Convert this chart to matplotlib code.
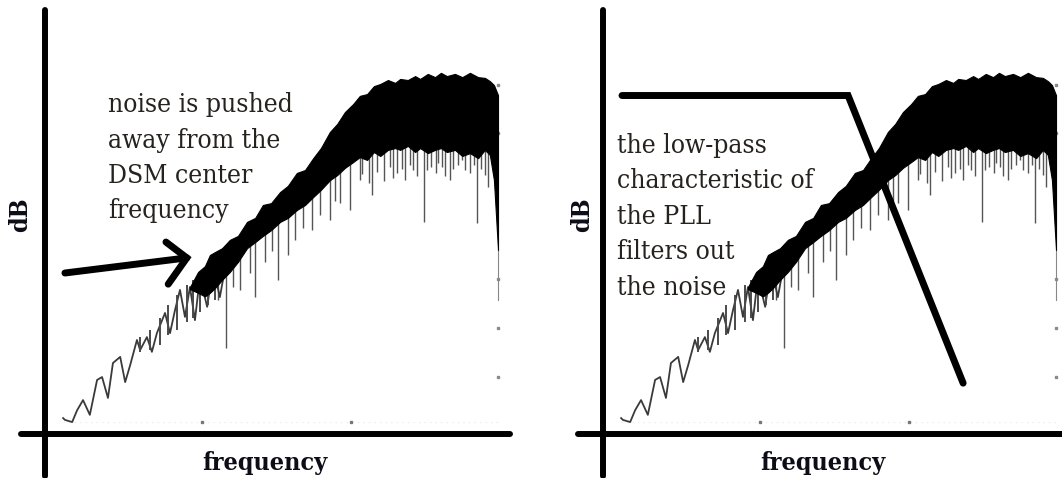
import matplotlib
matplotlib.use("Agg")
import matplotlib.pyplot as plt
import numpy as np

# ---------------- data (normalised frequency f, level in dB) ----------------
# low-frequency oscillating part of the noise spectrum
trace_f = [0.040, 0.044, 0.060, 0.071, 0.084, 0.099, 0.115, 0.126, 0.139, 0.150,
           0.166, 0.177, 0.188, 0.203, 0.210, 0.225, 0.236, 0.247, 0.265, 0.276,
           0.287, 0.298, 0.309, 0.320, 0.331, 0.342, 0.358, 0.371, 0.386, 0.402]
trace_db = [-95.3, -95.8, -96.4, -93.1, -90.3, -94.4, -84.7, -83.9, -89.7, -80.0,
            -78.3, -85.3, -80.6, -73.6, -76.4, -72.8, -76.9, -71.7, -66.1, -71.7,
            -65.3, -59.7, -67.2, -58.9, -68.1, -56.1, -64.4, -53.3, -61.7, -50.6]

# vertical noise strokes in the transition region (frequency, top, bottom)
stroke_f = [0.210, 0.232, 0.254, 0.272, 0.291, 0.313, 0.327, 0.342, 0.360, 0.375]
stroke_top = [-72.8, -70.8, -67.5, -63.9, -61.1, -58.3, -56.9, -54.7, -52.8, -50.8]
stroke_bottom = [-76.9, -76.4, -75.0, -72.2, -70.8, -68.6, -67.5, -65.8, -63.9, -62.5]

# dense noise band: upper and lower envelopes
band_f = [0.320, 0.338, 0.353, 0.364, 0.375, 0.391, 0.408, 0.426,
          0.446, 0.464, 0.481, 0.499, 0.519, 0.536, 0.556, 0.574, 0.592, 0.609,
          0.629, 0.645, 0.662, 0.680, 0.695, 0.711, 0.726, 0.740, 0.757, 0.773,
          0.784, 0.801, 0.817, 0.828, 0.845, 0.861, 0.874, 0.887, 0.905, 0.921,
          0.938, 0.956, 0.971, 0.982, 0.991, 1.000]
band_upper = [-58.9, -54.7, -53.1, -50.0, -49.2, -48.1, -45.8, -44.7,
              -40.8, -39.7, -36.1, -35.6, -32.5, -30.8, -27.2, -26.4, -23.1, -20.3,
              -15.8, -13.6, -10.3, -8.1, -5.8, -5.3, -3.1, -2.5, -1.4, -2.2,
              -1.1, -1.4, -0.3, -1.1, 0.3, -0.6, 0.6, -0.3, 0.3, -0.6,
              0.6, -0.6, -0.8, -1.7, -2.8, -5.6]
band_lower = [-59.5, -60.5, -61.5, -60.5, -59.2, -56.9, -54.7, -51.9,
              -48.1, -46.4, -44.7, -43.1, -40.8, -39.7, -37.5, -36.1, -33.9, -31.9,
              -29.2, -27.8, -25.8, -24.2, -22.8, -23.6, -21.4, -22.5, -20.8, -20.3,
              -20.8, -19.7, -21.4, -20.3, -21.7, -20.8, -20.3, -21.4, -20.8, -22.5,
              -21.7, -23.1, -20.8, -22.2, -29.2, -48.6]

# downward spikes below the band (frequency, lowest level)
spike_f = [0.382, 0.400, 0.415, 0.430, 0.452, 0.464, 0.486, 0.500, 0.514, 0.536,
           0.552, 0.570, 0.589, 0.607, 0.629, 0.640, 0.651, 0.673, 0.695, 0.700,
           0.716, 0.722, 0.733, 0.748, 0.762, 0.768, 0.777, 0.788, 0.795, 0.806,
           0.812, 0.822, 0.837, 0.843, 0.852, 0.863, 0.868, 0.876, 0.882, 0.894,
           0.900, 0.912, 0.921, 0.928, 0.938, 0.946, 0.954, 0.962, 0.971, 0.978]
spike_db = [-62.5, -75.8, -58.9, -59.7, -55.0, -61.7, -51.9, -49.0, -56.9, -50.0,
            -45.8, -42.5, -43.1, -38.9, -40.3, -35.0, -35.6, -37.5, -29.2, -27.5,
            -30.0, -33.3, -27.0, -29.5, -25.6, -28.5, -27.2, -26.0, -29.2, -25.0,
            -26.4, -28.0, -40.8, -26.4, -25.5, -27.2, -24.5, -25.6, -28.0, -29.2,
            -26.0, -25.0, -23.6, -26.5, -27.2, -25.0, -41.1, -26.0, -27.8, -31.0]

# faint tail after the roll-off
tail_f = [1.000, 1.000]
tail_db = [-48.6, -62.5]

# faint tick marks of the original spectrum plot
rtick_db = [-2.8, -16.1, -56.7, -70.3, -83.9]
btick_f = [0.347, 0.675]
btick_db = -96.3

# low-pass characteristic of the PLL (right panel)
filter_f = [0.042, 0.541, 0.795]
filter_db = [-5.7, -5.7, -85.6]

# arrow (left panel)
arrow_shaft_f = [0.044, 0.313]
arrow_shaft_db = [-55.0, -50.8]
arrow_head_f = [0.267, 0.313, 0.272]
arrow_head_db = [-46.4, -50.8, -58.1]

# hand-drawn axes
axis_v_db = [18.1, -111.4]
axis_h_db = -99.7
axis_h_left_f = [-0.053, 1.026]
axis_h_right_f = [-0.055, 1.05]

left_note = ["noise is pushed", "away from the", "DSM center", "frequency"]
right_note = ["the low-pass", "characteristic of", "the PLL", "filters out", "the noise"]
xlabel = "frequency"
ylabel = "dB"

# ---------------- figure ----------------
W, H = 1062, 478
fig = plt.figure(figsize=(W / 100, H / 100), dpi=100)
fig.patch.set_facecolor("white")

YLIM = (-111.94, 20.83)
axL = fig.add_axes([0, 0, 0.5, 1])
axR = fig.add_axes([0.5, 0, 0.5, 1])
axL.set_xlim(-0.0993, 1.0728)
axR.set_xlim(-0.1589, 1.0132)
for ax in (axL, axR):
    ax.set_ylim(*YLIM)
    ax.set_axis_off()


def draw_spectrum(ax):
    ax.plot(trace_f, trace_db, color="#3a3a3a", lw=1.3, zorder=3)
    ax.vlines(stroke_f, stroke_bottom, stroke_top, color="#4a4a4a", lw=1.4, zorder=3)
    ax.fill_between(band_f, band_lower, band_upper, color="black", lw=0.8,
                    edgecolor="black", zorder=3)
    tops = np.interp(spike_f, band_f, band_lower) + 1.5
    ax.vlines(spike_f, spike_db, tops, color="#555555", lw=1.0, zorder=2)
    ax.plot(tail_f, tail_db, color="#888888", lw=0.8, zorder=2)
    ax.plot([0.040, 1.0], [btick_db, btick_db], color="#e6e6e6", lw=0.8,
            ls=(0, (1, 4)), zorder=1)
    ax.plot(btick_f, [btick_db] * len(btick_f), ls="none", marker="s", ms=2,
            color="#777777", zorder=1)
    ax.plot([1.0] * len(rtick_db), rtick_db, ls="none", marker="s", ms=1.8,
            color="#8a8a8a", zorder=1)


def draw_axes(ax, hrange):
    ax.plot([0, 0], axis_v_db, color="black", lw=4.3, solid_capstyle="round", zorder=5)
    ax.plot(hrange, [axis_h_db, axis_h_db], color="black", lw=4.3,
            solid_capstyle="round", zorder=5)


draw_spectrum(axL)
draw_axes(axL, axis_h_left_f)
axL.plot(arrow_shaft_f, arrow_shaft_db, color="black", lw=5, solid_capstyle="round", zorder=6)
axL.plot(arrow_head_f, arrow_head_db, color="black", lw=5, solid_capstyle="round",
         solid_joinstyle="miter", zorder=6)

draw_spectrum(axR)
draw_axes(axR, axis_h_right_f)
axR.plot(filter_f, filter_db, color="black", lw=5, solid_capstyle="round",
         solid_joinstyle="miter", zorder=6)


def px(x, y):
    return x / W, 1 - y / H


note_kw = dict(family="DejaVu Serif", fontstretch="condensed", fontsize=19,
               color="#26231e", va="baseline", ha="left")
for i, line in enumerate(left_note):
    fig.text(*px(108, [112, 148, 183, 218][i]), line, **note_kw)
for i, line in enumerate(right_note):
    fig.text(*px(617, [153, 188, 224, 259, 295][i]), line, **note_kw)

lab_kw = dict(family="DejaVu Serif", fontstretch="condensed", fontweight="bold",
              fontsize=18, color="#0d0d18")
fig.text(*px(265, 470), xlabel, ha="center", va="baseline", **lab_kw)
fig.text(*px(823, 470), xlabel, ha="center", va="baseline", **lab_kw)
fig.text(*px(20, 215), ylabel, ha="center", va="center", rotation=90, **lab_kw)
fig.text(*px(582, 215), ylabel, ha="center", va="center", rotation=90, **lab_kw)

fig.savefig("out.png", dpi=100, facecolor="white")
